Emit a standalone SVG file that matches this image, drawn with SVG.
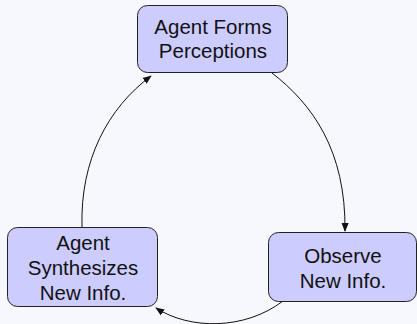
<svg xmlns="http://www.w3.org/2000/svg" width="417" height="324" viewBox="0 0 417 324">
  <style>
    .node rect { fill: #ccccff; stroke: #222222; stroke-width: 1; }
    .node text { font-family: "Liberation Sans", Arial, sans-serif; font-size: 20.5px; fill: #111111; text-anchor: middle; }
    .edge { fill: none; stroke: #111111; stroke-width: 1; marker-end: url(#arrow); }
  </style>
  <defs>
    <marker id="arrow" viewBox="0 0 10 10" refX="9" refY="5" markerWidth="9" markerHeight="9" markerUnits="userSpaceOnUse" orient="auto">
      <path d="M0,1 L10,5 L0,9 z" fill="#111111"/>
    </marker>
  </defs>
  <rect width="417" height="324" fill="#f7f8fd"/>

  <g id="connectors">
    <path class="edge" d="M272,73 C312,104 346,150 345,231"/>
    <path class="edge" d="M283,301 C245,330 190,330 156,308"/>
    <path class="edge" d="M82,227 C80,160 108,108 151,76"/>
  </g>

  <g id="node-perceptions" class="node">
    <rect x="137.5" y="5.5" width="150" height="67" rx="10"/>
    <text x="213" y="34">Agent Forms</text>
    <text x="213" y="58">Perceptions</text>
  </g>

  <g id="node-observe" class="node">
    <rect x="268.5" y="232.5" width="148" height="69" rx="10"/>
    <text x="343" y="263">Observe</text>
    <text x="343" y="288">New Info.</text>
  </g>

  <g id="node-synthesize" class="node">
    <rect x="7.5" y="227.5" width="150" height="79" rx="10"/>
    <text x="83" y="250">Agent</text>
    <text x="83" y="275">Synthesizes</text>
    <text x="83" y="300">New Info.</text>
  </g>
</svg>
